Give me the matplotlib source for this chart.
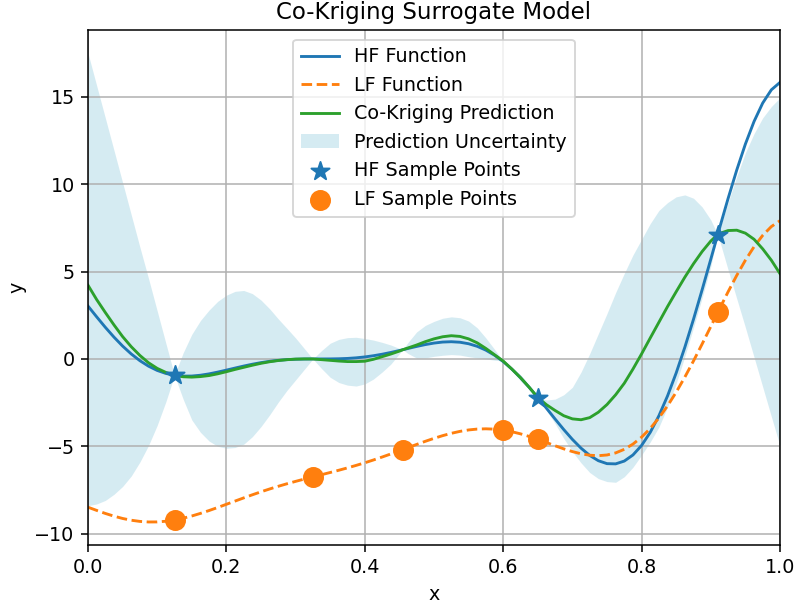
import numpy as np
import matplotlib
matplotlib.use("Agg")
from matplotlib import pyplot as plt

# fonctions HF / LF lues sur une grille fine
x_f = [0.0, 0.0125, 0.025, 0.0375, 0.05, 0.0625, 0.075, 0.0875, 0.1, 0.1125,
       0.125, 0.1375, 0.15, 0.1625, 0.175, 0.1875, 0.2, 0.2125, 0.225, 0.2375,
       0.25, 0.2625, 0.275, 0.2875, 0.3, 0.3125, 0.325, 0.3375, 0.35, 0.3625,
       0.375, 0.3875, 0.4, 0.4125, 0.425, 0.4375, 0.45, 0.4625, 0.475, 0.4875,
       0.5, 0.5125, 0.525, 0.5375, 0.55, 0.5625, 0.575, 0.5875, 0.6, 0.6125,
       0.625, 0.6375, 0.65, 0.6625, 0.675, 0.6875, 0.7, 0.7125, 0.725, 0.7375,
       0.75, 0.7625, 0.775, 0.7875, 0.8, 0.8125, 0.825, 0.8375, 0.85, 0.8625,
       0.875, 0.8875, 0.9, 0.9125, 0.925, 0.9375, 0.95, 0.9625, 0.975, 0.9875,
       1.0]

hf_y = [3.027, 2.411, 1.813, 1.251, 0.738, 0.286, -0.100, -0.414, -0.657,
        -0.829, -0.935, -0.982, -0.978, -0.932, -0.854, -0.753, -0.640,
        -0.522, -0.407, -0.302, -0.210, -0.136, -0.079, -0.040, -0.016,
        -0.004, 0.000, 0.000, 0.002, 0.011, 0.030, 0.064, 0.115, 0.184,
        0.270, 0.371, 0.483, 0.601, 0.717, 0.823, 0.909, 0.967, 0.986, 0.957,
        0.871, 0.722, 0.503, 0.213, -0.150, -0.581, -1.074, -1.621, -2.209,
        -2.821, -3.439, -4.042, -4.606, -5.107, -5.522, -5.825, -5.993,
        -6.006, -5.845, -5.497, -4.949, -4.201, -3.253, -2.115, -0.799, 0.673,
        2.272, 3.965, 5.712, 7.470, 9.187, 10.815, 12.303, 13.595, 14.648,
        15.406, 15.830]

lf_y = [-8.487, -8.669, -8.843, -8.999, -9.131, -9.232, -9.300, -9.332,
        -9.329, -9.290, -9.218, -9.116, -8.989, -8.841, -8.677, -8.502,
        -8.320, -8.136, -7.954, -7.776, -7.605, -7.443, -7.289, -7.145,
        -7.008, -6.877, -6.750, -6.625, -6.499, -6.370, -6.235, -6.093,
        -5.943, -5.783, -5.615, -5.440, -5.259, -5.075, -4.892, -4.714,
        -4.545, -4.391, -4.257, -4.146, -4.064, -4.014, -3.999, -4.019,
        -4.075, -4.165, -4.287, -4.436, -4.604, -4.786, -4.970, -5.146,
        -5.303, -5.429, -5.511, -5.538, -5.497, -5.378, -5.173, -4.874,
        -4.475, -3.976, -3.377, -2.683, -1.900, -1.038, -0.114, 0.858, 1.856,
        2.860, 3.844, 4.783, 5.652, 6.423, 7.074, 7.578, 7.915]

# prediction co-kriging et bande d'incertitude
x_p = [0.0, 0.0125, 0.025, 0.0375, 0.05, 0.0625, 0.075, 0.0875, 0.1, 0.1125,
       0.125, 0.1375, 0.15, 0.1625, 0.175, 0.1875, 0.2, 0.2125, 0.225, 0.2375,
       0.25, 0.2625, 0.275, 0.2875, 0.3, 0.3125, 0.325, 0.3375, 0.35, 0.3625,
       0.375, 0.3875, 0.4, 0.4125, 0.425, 0.4375, 0.45, 0.455, 0.4625, 0.475,
       0.4875, 0.5, 0.5125, 0.525, 0.5375, 0.55, 0.5625, 0.575, 0.5875, 0.6,
       0.6125, 0.625, 0.6375, 0.65, 0.6625, 0.675, 0.6875, 0.7, 0.7125, 0.725,
       0.7375, 0.75, 0.7625, 0.775, 0.7875, 0.8, 0.8125, 0.825, 0.8375, 0.85,
       0.8625, 0.875, 0.8875, 0.9, 0.91, 0.9125, 0.925, 0.9375, 0.95, 0.9625,
       0.975, 0.9875, 1.0]

pred_y = [4.22, 3.40, 2.66, 1.95, 1.28, 0.70, 0.20, -0.22, -0.54, -0.77,
          -0.935, -1.02, -1.04, -1.01, -0.95, -0.85, -0.73, -0.60, -0.48,
          -0.36, -0.25, -0.16, -0.09, -0.04, -0.01, 0.0, 0.0, -0.04, -0.08,
          -0.12, -0.15, -0.15, -0.13, -0.02, 0.13, 0.28, 0.45, 0.53, 0.63,
          0.80, 0.99, 1.15, 1.27, 1.33, 1.29, 1.15, 0.92, 0.60, 0.24, -0.12,
          -0.58, -1.07, -1.62, -2.21, -2.62, -2.95, -3.25, -3.43, -3.48,
          -3.36, -3.05, -2.61, -2.05, -1.39, -0.58, 0.29, 1.20, 2.10, 3.00,
          3.85, 4.68, 5.45, 6.15, 6.75, 7.12, 7.18, 7.35, 7.37, 7.20, 6.85,
          6.30, 5.65, 4.88]

band_hi = [17.5, 15.65, 13.8, 11.95, 10.1, 8.25, 6.4, 4.6, 2.75, 0.9, -0.935,
           0.35, 1.41, 2.2, 2.8, 3.3, 3.65, 3.87, 3.92, 3.74, 3.37, 2.87, 2.29,
           1.75, 1.2, 0.6, 0.0, 0.48, 0.9, 1.12, 1.22, 1.24, 1.17, 1.08, 0.95,
           0.8, 0.6, 0.53, 0.95, 1.55, 1.92, 2.15, 2.33, 2.41, 2.36, 2.17,
           1.78, 1.2, 0.55, -0.12, -0.5, -0.9, -1.5, -2.21, -2.35, -2.3,
           -2.05, -1.62, -0.75, 0.3, 1.45, 2.6, 3.8, 4.9, 5.95, 6.85, 7.75,
           8.5, 8.95, 9.28, 9.39, 9.2, 8.7, 7.96, 7.12, 7.4, 8.95, 10.45,
           11.8, 12.9, 13.8, 14.45, 14.95]

band_lo = [-8.4, -8.3, -8.1, -7.75, -7.3, -6.7, -5.9, -4.95, -3.8, -2.45,
           -0.935, -2.3, -3.49, -4.2, -4.7, -5.0, -5.11, -5.07, -4.88, -4.45,
           -3.87, -3.2, -2.47, -1.8, -1.2, -0.6, 0.0, -0.55, -1.05, -1.35,
           -1.5, -1.55, -1.43, -1.15, -0.75, -0.3, 0.3, 0.53, 0.31, 0.05,
           0.06, 0.15, 0.21, 0.25, 0.22, 0.13, 0.06, 0.0, -0.07, -0.12, -0.66,
           -1.25, -1.75, -2.21, -2.95, -3.7, -4.55, -5.3, -5.95, -6.5, -6.85,
           -7.02, -7.06, -6.74, -6.2, -5.5, -4.75, -3.9, -2.75, -1.4, 0.15,
           1.8, 3.5, 5.3, 7.12, 6.8, 5.1, 3.45, 1.8, 0.1, -1.6, -3.3, -4.98]

# points d'echantillonnage
x_hf = [0.125, 0.65, 0.91]
y_hf = [-0.935, -2.209, 7.117]
x_lf = [0.125, 0.325, 0.455, 0.6, 0.65, 0.91]
y_lf = [-9.218, -6.750, -5.185, -4.075, -4.604, 2.659]

dpi = 137.5
fig = plt.figure(figsize=(795/dpi, 609/dpi), dpi=dpi)
ax = fig.add_subplot(111)
fig.subplots_adjust(left=88/795, right=780/795, top=1-30/609, bottom=1-545/609)

ax.plot(x_f, hf_y, color='C0', label='HF Function')
ax.plot(x_f, lf_y, '--', color='C1', label='LF Function')
ax.plot(x_p, pred_y, color='C2', label='Co-Kriging Prediction')
ax.fill_between(x_p, band_lo, band_hi, color='lightblue', alpha=0.5,
                linewidth=0, label='Prediction Uncertainty')
ax.scatter(x_hf, y_hf, marker='*', s=100, color='C0', zorder=3,
           label='HF Sample Points')
ax.scatter(x_lf, y_lf, marker='o', s=100, color='C1', zorder=3,
           label='LF Sample Points')

ax.set_xlim(0, 1)
ax.set_ylim(-10.65, 18.83)
ax.set_title('Co-Kriging Surrogate Model')
ax.set_xlabel('x')
ax.set_ylabel('y')
ax.legend(loc='upper center')
ax.grid(True)

fig.savefig('out.png', dpi=dpi)
